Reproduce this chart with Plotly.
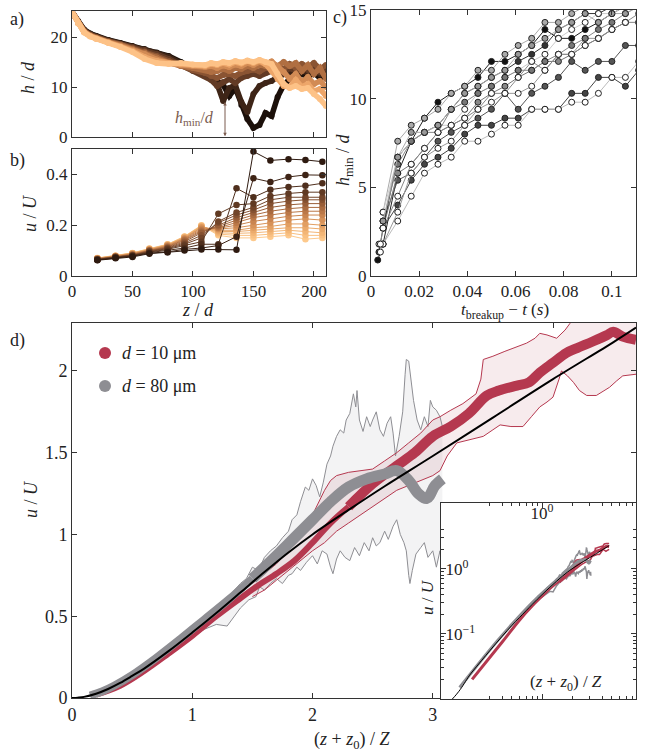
import plotly.graph_objects as go

W, H = 649, 751
def px(x): return x / W
def py(y): return 1 - y / H

FONT = "Liberation Serif"

# ---------------- panel a data: h/d vs z/d ----------------
z_a = [0,5,10,15,20,30,40,50,60,70,80,90,100,110,115,120,125,130,135,140,145,150,155,160,165,170,175,180,185,190,195,200,205,210]
h_a0 = [25,23.2,21.5,20.7,20.2,19.4,18.8,18.2,17.6,16.9,16.2,15.0,13.8,12.6,12.0,11.2,10.4,8.2,9.8,6.4,3.6,1.8,2.4,4.8,4.2,8.0,10.4,11.6,12.2,12.6,12.0,12.8,11.8,12.2]
h_a1 = [25,23.1,21.4,20.6,20.1,19.3,18.7,18.1,17.5,16.8,16.0,14.8,13.6,12.4,11.6,10.6,7.2,9.8,10.4,7.0,5.0,8.6,10.2,10.8,11.2,12.0,12.6,13.0,12.4,13.2,12.8,13.6,12.6,13.4]
h_a2 = [25,23.0,21.3,20.5,20.0,19.2,18.6,18.0,17.4,16.6,15.6,14.4,13.2,12.2,11.4,10.2,11.0,11.6,10.8,11.8,12.2,12.6,12.2,12.8,13.2,13.6,12.8,13.8,13.2,14.0,13.4,14.2,13.0,13.8]
h_a3 = [25,23.0,21.2,20.4,19.9,19.1,18.5,17.8,17.1,16.2,15.2,14.2,13.4,12.8,12.2,11.8,12.4,12.6,12.2,12.9,13.2,13.5,13.1,13.8,14.0,14.2,13.6,14.6,13.8,14.6,14.0,14.8,13.6,14.4]
h_a4 = [25,22.9,21.1,20.3,19.8,19.0,18.4,17.6,16.9,15.9,14.9,14.2,13.8,13.4,13.0,13.2,13.6,13.2,13.8,13.6,14.2,13.8,14.4,14.2,14.8,14.2,15.0,14.2,14.8,13.2,14.4,12.6,13.8,11.6]
h_a5 = [25,22.8,21.0,20.2,19.7,18.9,18.2,17.4,16.6,15.5,14.8,14.4,14.2,14.0,14.2,13.8,14.3,14.0,14.5,14.2,14.8,14.4,15.0,14.6,15.1,14.2,13.0,11.6,12.6,11.0,12.0,10.6,11.2,10.0]
h_a6 = [25,22.8,21.0,20.2,19.7,18.9,18.1,17.2,16.0,15.2,14.8,14.6,14.4,14.2,14.6,14.4,14.8,14.5,15.0,14.7,15.2,14.8,15.3,14.6,13.2,11.6,10.2,10.0,11.4,10.0,10.6,9.2,9.6,8.2]
h_a7 = [25,22.7,20.9,20.1,19.6,18.8,18.0,17.0,15.6,14.8,14.6,14.8,14.5,14.4,14.8,14.6,15.0,14.8,15.2,14.9,15.3,15.0,15.4,15.0,14.6,12.6,10.6,9.8,10.2,9.6,9.8,8.6,7.6,6.2]
a_series = [h_a0, h_a1, h_a2, h_a3, h_a4, h_a5, h_a6, h_a7]
a_colors = ["#1c100a", "#3e2517", "#633b25", "#8a5433", "#b06f42", "#d28b55", "#eda66a", "#fdc287"]

# ---------------- panel b data: u/U vs z/d ----------------
z_b = [21, 36, 50, 64, 79, 93, 107, 121, 136, 150, 164, 179, 193, 207]
u_b00 = [0.062,0.070,0.075,0.088,0.093,0.100,0.104,0.104,0.103,0.490,0.455,0.460,0.457,0.450]
u_b01 = [0.063,0.072,0.078,0.090,0.095,0.105,0.110,0.120,0.155,0.385,0.370,0.390,0.398,0.397]
u_b02 = [0.064,0.073,0.079,0.092,0.100,0.110,0.125,0.125,0.345,0.310,0.340,0.350,0.355,0.365]
u_b03 = [0.065,0.074,0.080,0.094,0.105,0.120,0.135,0.245,0.280,0.285,0.315,0.325,0.330,0.330]
u_b04 = [0.065,0.075,0.081,0.096,0.108,0.125,0.150,0.215,0.250,0.270,0.300,0.310,0.310,0.310]
u_b05 = [0.066,0.075,0.082,0.098,0.110,0.130,0.160,0.210,0.240,0.260,0.285,0.295,0.300,0.300]
u_b06 = [0.066,0.076,0.083,0.099,0.112,0.135,0.170,0.200,0.230,0.250,0.270,0.280,0.285,0.285]
u_b07 = [0.067,0.076,0.084,0.100,0.114,0.140,0.175,0.195,0.220,0.240,0.255,0.265,0.270,0.270]
u_b08 = [0.067,0.077,0.085,0.101,0.116,0.143,0.180,0.190,0.210,0.230,0.240,0.250,0.255,0.255]
u_b09 = [0.068,0.077,0.086,0.102,0.118,0.146,0.185,0.188,0.200,0.215,0.225,0.235,0.240,0.240]
u_b10 = [0.068,0.078,0.087,0.103,0.120,0.148,0.190,0.185,0.190,0.200,0.210,0.220,0.225,0.220]
u_b11 = [0.069,0.078,0.088,0.104,0.121,0.150,0.192,0.180,0.180,0.190,0.195,0.205,0.205,0.200]
u_b12 = [0.069,0.079,0.089,0.105,0.122,0.152,0.195,0.175,0.175,0.180,0.185,0.190,0.190,0.185]
u_b13 = [0.070,0.079,0.090,0.106,0.123,0.154,0.197,0.170,0.168,0.170,0.175,0.180,0.175,0.170]
u_b14 = [0.070,0.080,0.090,0.107,0.124,0.155,0.198,0.165,0.160,0.160,0.165,0.170,0.160,0.160]
u_b15 = [0.071,0.080,0.091,0.108,0.125,0.156,0.200,0.160,0.150,0.150,0.155,0.160,0.145,0.150]
b_series = [u_b00,u_b01,u_b02,u_b03,u_b04,u_b05,u_b06,u_b07,u_b08,u_b09,u_b10,u_b11,u_b12,u_b13,u_b14,u_b15]
b_colors = ["#2e1a10","#3e2416","#4f2f1d","#603a23","#72452a","#855131","#985e38","#aa6b40",
            "#bb7848","#ca8550","#d79259","#e29f62","#ebab6c","#f3b676","#f9c081","#fdc98c"]

# ---------------- panel c data: h_min/d vs t_breakup - t ----------------
t_c = [0.0050,0.0111,0.0167,0.0222,0.0278,0.0333,0.0389,0.0444,0.0500,0.0556,0.0611,0.0667,0.0722,0.0778,0.0833,0.0889,0.0944,0.1000,0.1056,0.1111]
hc01 = [1.8,5.8,7.6,8.9,9.8,10.3,10.7,11.2,12.1,12.1,12.5,13.0,13.9,13.4,13.4,13.9,14.3,14.8,15.2,15.7]
hc02 = [2.7,4.0,5.4,6.3,6.7,7.2,8.0,8.5,8.5,8.9,8.9,9.4,9.4,9.4,10.3,10.3,11.2,11.2,10.7,11.6]
hc03 = [3.1,5.4,5.8,6.7,7.6,8.1,8.5,8.9,9.4,10.3,9.4,10.3,10.7,11.2,12.1,11.6,12.1,12.1,13.0,13.0]
hc04 = [1.8,3.1,4.5,5.8,6.3,6.7,7.6,7.6,8.0,8.5,8.5,9.4,9.4,9.4,9.8,9.8,10.3,11.2,11.2,12.1]
hc05 = [2.7,5.8,6.3,7.2,8.1,8.5,8.9,9.8,10.3,10.7,11.2,11.6,12.1,12.1,12.5,13.0,13.4,13.9,14.3,14.3]
hc06 = [1.8,3.6,5.8,6.7,7.2,7.6,8.5,9.4,9.8,10.3,10.3,10.7,11.6,12.5,12.5,13.4,13.4,13.9,14.3,14.3]
hc07 = [3.6,7.6,8.5,8.9,9.4,10.3,10.7,11.6,11.6,12.5,13.0,13.4,14.3,14.3,14.8,15.2,15.7,15.7,16.0,16.0]
hc08 = [2.7,6.7,7.6,8.1,8.5,9.4,10.3,10.7,11.2,11.6,12.1,12.5,13.0,13.9,14.3,14.8,14.8,15.2,15.7,15.7]
hc09 = [3.6,6.7,7.6,8.1,8.5,8.5,9.4,10.3,10.7,11.2,11.6,12.1,12.5,13.4,13.9,14.3,14.8,14.8,15.2,15.7]
hc10 = [3.1,6.3,7.6,8.1,8.1,9.4,9.8,10.3,10.7,11.2,11.6,11.6,12.1,12.5,13.0,13.4,13.9,14.3,14.8,15.2]
hc11 = [2.7,4.5,6.3,7.2,8.1,8.5,8.9,9.4,10.3,10.3,11.2,12.1,11.6,12.5,12.5,13.0,13.4,13.9,14.3,14.8]
hc12 = [3.1,6.7,8.1,8.1,8.5,9.4,10.3,10.7,11.2,11.6,12.5,13.0,13.4,13.9,14.3,14.8,14.3,14.8,14.8,15.2]
c_series = [hc01,hc02,hc03,hc04,hc05,hc06,hc07,hc08,hc09,hc10,hc11,hc12]
c_first_t = [0.0028, 0.0033, None, 0.0039, None, 0.0033, None, None, None, None, 0.0039, None]
c_first_h = [0.9, 1.35, None, 1.35, None, 1.8, None, None, None, None, 1.8, None]
c_fill = ["#111111","#444444","#555555","#ffffff","#888888","#ffffff","#aaaaaa","#333333","#ffffff","#777777","#ffffff","#999999"]
c_line = ["#222222","#444444","#555555","#bbbbbb","#777777","#999999","#aaaaaa","#333333","#cccccc","#888888","#888888","#aaaaaa"]

# ---------------- panel d data ----------------
x_fit = [0,0.1,0.2,0.3,0.4,0.5,0.6,0.8,1.0,1.2,1.4,1.6,1.8,2.0,2.3,2.6,3.0,3.5,4.0,4.5,4.69]
y_fit = [0,0.007,0.026,0.055,0.092,0.135,0.18,0.285,0.40,0.52,0.645,0.77,0.89,1.0,1.15,1.295,1.48,1.715,1.95,2.175,2.265]

x_red_lo = [0.2,0.4,0.6,0.8,1.0,1.2,1.4,1.55,1.7,1.85,2.0,2.15,2.3]
y_red_lo = [0.02,0.075,0.165,0.27,0.38,0.5,0.61,0.69,0.76,0.84,0.95,1.07,1.17]
x_red_hi = [2.3,2.5,2.7,2.85,3.0,3.15,3.3,3.45,3.55,3.7,3.8,3.89,4.0,4.11,4.2,4.33,4.45,4.5,4.58,4.69]
y_red_hi = [1.17,1.31,1.42,1.5,1.6,1.66,1.74,1.85,1.88,1.91,1.93,1.99,2.05,2.11,2.14,2.18,2.22,2.24,2.21,2.19]

x_red_up = [1.5,1.6,1.7,1.8,1.9,2.0,2.05,2.1,2.15,2.2,2.3,2.4,2.5,2.6,2.7,2.8,2.9,3.0,3.06,3.15,3.25,3.36,3.4,3.42,3.5,3.6,3.7,3.78,3.85,3.89,3.95,4.03,4.1,4.14,4.2,4.4,4.69]
y_red_up = [0.7,0.76,0.82,0.9,0.99,1.12,1.2,1.27,1.33,1.36,1.38,1.39,1.4,1.45,1.5,1.56,1.62,1.7,1.72,1.76,1.8,1.86,1.95,2.07,2.09,2.12,2.15,2.17,2.2,2.23,2.22,2.2,2.25,2.29,2.4,2.45,2.45]
x_red_dn = [1.5,1.6,1.7,1.8,1.9,2.0,2.1,2.2,2.3,2.4,2.5,2.6,2.7,2.8,2.9,3.0,3.06,3.12,3.2,3.3,3.42,3.5,3.56,3.65,3.75,3.82,3.89,3.95,4.0,4.05,4.07,4.12,4.17,4.22,4.28,4.36,4.42,4.47,4.53,4.58,4.69]
y_red_dn = [0.62,0.66,0.72,0.78,0.84,0.9,0.95,1.02,1.07,1.12,1.17,1.22,1.27,1.3,1.33,1.36,1.39,1.48,1.56,1.58,1.6,1.64,1.67,1.66,1.66,1.72,1.78,1.81,1.84,1.95,2.0,1.97,1.93,1.88,1.85,1.85,1.88,1.9,1.94,1.97,1.98]

x_gray_lo = [0.15,0.25,0.35,0.5,0.7,0.9,1.1,1.3,1.5]
y_gray_lo = [0.015,0.04,0.075,0.14,0.245,0.36,0.48,0.6,0.73]
x_gray_hi = [1.5,1.7,1.85,2.0,2.15,2.3,2.45,2.6,2.7,2.8,2.88,2.95,3.02,3.08]
y_gray_hi = [0.73,0.87,0.98,1.09,1.2,1.29,1.34,1.37,1.39,1.33,1.25,1.22,1.3,1.34]

x_gray_up = [0.9,1.0,1.1,1.2,1.29,1.35,1.4,1.45,1.5,1.55,1.6,1.65,1.7,1.75,1.8,1.83,1.87,1.9,1.94,1.97,2.0,2.03,2.06,2.09,2.12,2.15,2.17,2.2,2.23,2.26,2.28,2.31,2.34,2.36,2.37,2.39,2.42,2.45,2.48,2.5,2.53,2.56,2.59,2.62,2.65,2.67,2.69,2.72,2.75,2.77,2.78,2.8,2.82,2.84,2.87,2.9,2.93,2.96,2.98,3.0,3.03,3.06,3.08]
y_gray_up = [0.37,0.43,0.49,0.55,0.6,0.66,0.7,0.73,0.8,0.78,0.86,0.9,0.93,0.98,1.02,1.09,1.12,1.2,1.29,1.27,1.34,1.3,1.23,1.32,1.43,1.48,1.54,1.6,1.64,1.62,1.7,1.74,1.86,1.78,1.88,1.7,1.63,1.72,1.66,1.7,1.75,1.64,1.6,1.68,1.72,1.62,1.48,1.6,1.75,1.98,2.07,2.06,1.95,1.82,1.7,1.64,1.72,1.66,1.82,1.78,1.76,1.72,1.66]
x_gray_dn = [0.9,1.0,1.1,1.2,1.29,1.35,1.4,1.47,1.53,1.56,1.6,1.65,1.7,1.75,1.8,1.83,1.87,1.9,1.95,2.0,2.04,2.08,2.12,2.15,2.17,2.2,2.23,2.27,2.31,2.35,2.39,2.43,2.47,2.5,2.53,2.56,2.6,2.63,2.67,2.7,2.73,2.76,2.78,2.8,2.81,2.83,2.86,2.9,2.93,2.96,3.0,3.03,3.06,3.08]
y_gray_dn = [0.33,0.37,0.42,0.45,0.44,0.5,0.55,0.6,0.62,0.68,0.66,0.7,0.73,0.7,0.75,0.76,0.8,0.78,0.83,0.87,0.82,0.9,0.88,0.8,0.76,0.85,0.9,0.86,0.84,0.92,0.87,0.95,0.9,0.98,0.93,0.95,1.02,0.97,1.05,1.09,1.0,0.95,0.9,0.75,0.7,0.78,0.88,0.92,0.95,0.86,0.9,0.8,0.9,0.78]

RED = "#b5384f"
GRAY = "#8e8e93"

fig = go.Figure()

def line(xs, ys, xa, ya, color, width, mode="lines", msize=None, shape="linear"):
    kw = dict(x=xs, y=ys, mode=mode, xaxis=xa, yaxis=ya, showlegend=False, hoverinfo="skip",
              line=dict(color=color, width=width, shape=shape))
    if msize:
        kw["marker"] = dict(color=color, size=msize)
    fig.add_trace(go.Scatter(**kw))

# panel a
for ys, col in zip(a_series, a_colors):
    line(z_a, ys, "x", "y", col, 5.5, mode="lines+markers", msize=6)

# panel b (light first, dark on top)
for ys, col in reversed(list(zip(b_series, b_colors))):
    line(z_b, ys, "x2", "y2", col, 1, mode="lines+markers", msize=6.5)

# panel c
for ys, t0, h0, fc, lc in zip(c_series, c_first_t, c_first_h, c_fill, c_line):
    xs = ([t0] if t0 is not None else []) + t_c
    yy = ([h0] if h0 is not None else []) + ys
    fig.add_trace(go.Scatter(x=xs, y=yy, mode="lines+markers", xaxis="x3", yaxis="y3",
                             line=dict(color=lc, width=1),
                             marker=dict(color=fc, size=6, line=dict(color="#222222", width=1)),
                             showlegend=False, hoverinfo="skip"))

# panel d main: envelopes
fig.add_trace(go.Scatter(x=x_gray_up + x_gray_dn[::-1], y=y_gray_up + y_gray_dn[::-1],
                         fill="toself", fillcolor="rgba(200,200,203,0.22)", line=dict(width=0),
                         mode="lines", xaxis="x4", yaxis="y4", showlegend=False, hoverinfo="skip"))
fig.add_trace(go.Scatter(x=x_red_up + x_red_dn[::-1], y=y_red_up + y_red_dn[::-1],
                         fill="toself", fillcolor="rgba(181,56,79,0.10)", line=dict(width=0),
                         mode="lines", xaxis="x4", yaxis="y4", showlegend=False, hoverinfo="skip"))
line(x_gray_up, y_gray_up, "x4", "y4", GRAY, 1)
line(x_gray_dn, y_gray_dn, "x4", "y4", GRAY, 1)
line(x_red_up, y_red_up, "x4", "y4", RED, 1)
line(x_red_dn, y_red_dn, "x4", "y4", RED, 1)
# mean bands
line(x_red_lo, y_red_lo, "x4", "y4", RED, 6, shape="spline")
line(x_red_hi, y_red_hi, "x4", "y4", RED, 10, shape="spline")
line(x_gray_lo, y_gray_lo, "x4", "y4", GRAY, 8, shape="spline")
line(x_gray_hi, y_gray_hi, "x4", "y4", GRAY, 11, shape="spline")
line(x_fit, y_fit, "x4", "y4", "black", 2, shape="spline")

# inset (log-log)
line(x_gray_up, y_gray_up, "x5", "y5", GRAY, 1.5)
line(x_gray_dn, y_gray_dn, "x5", "y5", GRAY, 1.5)
line(x_red_up, y_red_up, "x5", "y5", RED, 1.5)
line(x_red_dn, y_red_dn, "x5", "y5", RED, 1.5)
line(x_red_lo + x_red_hi, y_red_lo + y_red_hi, "x5", "y5", RED, 3, shape="spline")
line(x_gray_lo + x_gray_hi, y_gray_lo + y_gray_hi, "x5", "y5", GRAY, 3, shape="spline")
line(x_fit, y_fit, "x5", "y5", "black", 1, shape="spline")

TF = dict(family=FONT, size=17, color="#222")
TFD = dict(family=FONT, size=18, color="#222")
AX = dict(showline=True, linecolor="#333", linewidth=1, mirror="allticks", ticks="inside",
          ticklen=5, tickcolor="#333", showgrid=False, zeroline=False, automargin=False,
          tickfont=TF)

def ax(**kw):
    d = dict(AX)
    d.update(kw)
    return d

layout = dict(
    width=W, height=H, margin=dict(l=0, r=0, t=0, b=0, pad=0, autoexpand=False),
    paper_bgcolor="white", plot_bgcolor="white",
    font=dict(family=FONT, color="#222"),
    xaxis=ax(domain=[px(72), px(326)], anchor="y", range=[0, 210], tickvals=[0,50,100,150,200], showticklabels=False),
    yaxis=ax(domain=[py(137), py(11)], anchor="x", range=[0, 25.2], tickvals=[0,10,20]),
    xaxis2=ax(domain=[px(72), px(326)], anchor="y2", range=[0, 210], tickvals=[0,50,100,150,200]),
    yaxis2=ax(domain=[py(276), py(149)], anchor="x2", range=[0, 0.5], tickvals=[0,0.2,0.4], ticktext=["0","0.2","0.4"]),
    xaxis3=ax(domain=[px(371), px(636)], anchor="y3", range=[0, 0.11], tickvals=[0,0.02,0.04,0.06,0.08,0.1],
              ticktext=["0","0.02","0.04","0.06","0.08","0.1"]),
    yaxis3=ax(domain=[py(276), py(10)], anchor="x3", range=[0, 15], tickvals=[0,5,10,15]),
    xaxis4=ax(domain=[px(72), px(636)], anchor="y4", range=[0, 4.69], tickvals=[0,1,2,3,4],
              ticktext=["0","1","2","3",""], tickfont=TFD),
    yaxis4=ax(domain=[py(698), py(322.7)], anchor="x4", range=[0, 2.295], tickvals=[0,0.5,1,1.5,2],
              ticktext=["0","0.5","1","1.5","2"], tickfont=TFD),
    xaxis5=ax(domain=[px(441), px(636)], anchor="y5", type="log", range=[-1.01, 0.94],
              tickvals=[0.1, 1, 10], ticktext=["", "10<sup>0</sup>", ""], side="top",
              ticklabelposition="inside", tickfont=dict(family=FONT, size=17, color="#222"),
              minor=dict(ticks="inside", ticklen=3, tickcolor="#333", dtick="D1", showgrid=False)),
    yaxis5=ax(domain=[py(699), py(503)], anchor="x5", type="log", range=[-2, 1.01],
              tickvals=[0.01, 0.1, 1, 10], ticktext=["", "10<sup>−1</sup>", "10<sup>0</sup>", ""],
              ticklabelposition="inside", tickfont=dict(family=FONT, size=17, color="#222"),
              minor=dict(ticks="inside", ticklen=3, tickcolor="#333", dtick="D1", showgrid=False)),
)
fig.update_layout(**layout)

def txt(x, y, s, size=17, color="#222", angle=0, xanchor="center"):
    return dict(x=px(x), y=py(y), xref="paper", yref="paper", text=s, showarrow=False,
                font=dict(family=FONT, size=size, color=color), textangle=angle,
                xanchor=xanchor, yanchor="middle")

ann = [
    txt(17, 20, "a)", size=18), txt(17, 160, "b)", size=18), txt(340, 17, "c)", size=18), txt(17, 340, "d)", size=18),
    txt(28, 78, "<i>h</i> / <i>d</i>", size=18, angle=-90),
    txt(30, 214, "<i>u</i> / <i>U</i>", size=18, angle=-90),
    txt(198, 310, "<i>z</i> / <i>d</i>", size=18),
    txt(344, 160, "<i>h</i><sub>min</sub> / <i>d</i>", size=18, angle=-90),
    txt(505, 311, "<i>t</i><sub>breakup</sub> − <i>t</i> (<i>s</i>)", size=17),
    txt(31, 500, "<i>u</i> / <i>U</i>", size=18, angle=-90),
    txt(352, 740, "(<i>z</i> + <i>z</i><sub>0</sub>) / <i>Z</i>", size=18),
    txt(566, 683, "(<i>z</i> + <i>z</i><sub>0</sub>) / <i>Z</i>", size=17),
    txt(427, 597, "<i>u</i> / <i>U</i>", size=17, angle=-90),
    txt(120, 353, "<i>d</i> = 10 μm", size=18, xanchor="left"),
    txt(120, 386, "<i>d</i> = 80 μm", size=18, xanchor="left"),
    txt(194, 119, "<i>h</i><sub>min</sub>/<i>d</i>", size=16, color="#7a5b4e"),
    dict(x=126.5, y=0.15, ax=126.5, ay=7.3, xref="x", yref="y", axref="x", ayref="y",
         showarrow=True, arrowhead=2, arrowsize=0.7, arrowwidth=1, arrowcolor="#7a5b4e",
         arrowside="end+start", text=""),
]
fig.update_layout(annotations=ann)

fig.update_layout(shapes=[
    dict(type="circle", xref="paper", yref="paper", x0=px(99), x1=px(111), y0=py(359), y1=py(347),
         fillcolor=RED, line=dict(width=0)),
    dict(type="circle", xref="paper", yref="paper", x0=px(99), x1=px(111), y0=py(392), y1=py(380),
         fillcolor=GRAY, line=dict(width=0)),
])

fig.write_html("out.html", config={"displayModeBar": False},
               post_script="document.body.style.margin='0px';document.body.style.overflow='hidden';")
